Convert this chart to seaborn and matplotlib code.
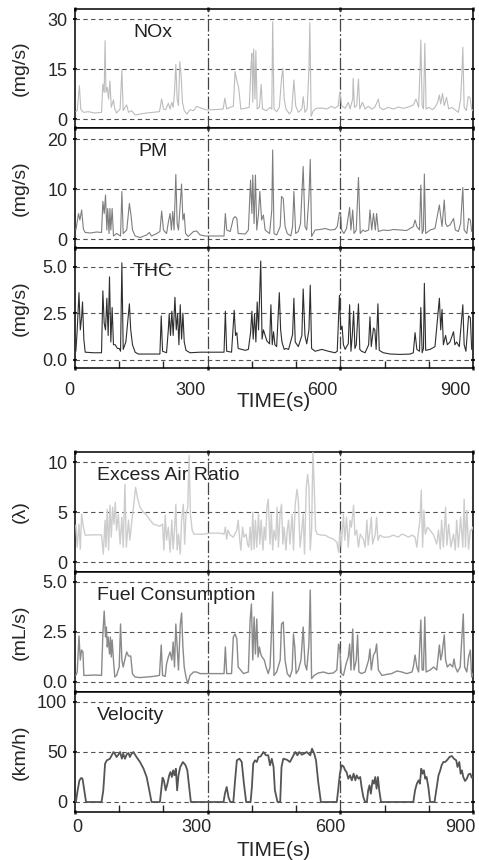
import matplotlib
matplotlib.use("Agg")
import pandas as pd
import matplotlib.pyplot as plt
import seaborn as sns
from matplotlib.ticker import FixedLocator
from matplotlib.transforms import ScaledTranslation

# time (s), value pairs
nox = [(2, 2.2), (5, 2.5), (10, 10), (13, 3), (19, 2), (30, 2.2), (45, 1.8), (60, 2), (63, 10.5), (66, 8),
       (68, 23.5), (70, 8), (73, 9.5), (76, 6), (79, 11.4), (82, 3.5), (87, 5.7), (90, 3), (94, 1.8), (102, 3),
       (106, 14.7), (109, 2.5), (113, 3.5), (117, 4.2), (121, 2), (128, 2.5), (136, 1.2), (147, 1.5), (162, 1.8),
       (177, 2), (191, 2.2), (196, 6), (200, 3), (205, 2.8), (211, 4.7), (215, 3), (219, 5), (222, 3.5), (225, 8),
       (228, 16.4), (231, 6), (234, 4), (237, 17.2), (240, 13), (243, 5), (247, 2.5), (253, 1.5), (260, 2.8),
       (268, 2.5), (275, 3.8), (286, 3.2), (298, 2.7), (313, 2.8), (328, 2.9), (335, 3), (339, 6.3), (343, 3),
       (351, 3.5), (358, 3.8), (362, 14.2), (366, 11.5), (370, 9.5), (375, 3), (384, 3.2), (394, 3.5), (398, 16),
       (400, 19.7), (402, 5), (404, 21), (407, 6), (409, 20.5), (412, 3), (417, 3.5), (421, 10.4), (424, 3),
       (433, 2.5), (441, 3.5), (445, 3), (447, 29.2), (450, 3), (456, 2.2), (462, 3.5), (467, 12), (470, 15.2),
       (473, 6), (477, 3), (485, 1.5), (490, 2.5), (495, 11.7), (499, 4), (505, 2), (513, 3), (516, 6.7), (520, 2),
       (525, 3), (529, 15), (531, 28.9), (534, 0.8), (539, 2.5), (546, 3.2), (558, 3.3), (569, 3), (580, 3.8),
       (588, 3.2), (595, 4), (599, 8.2), (603, 4), (611, 3.2), (618, 5), (622, 3), (628, 6), (629, 12.2),
       (632, 3.5), (637, 4), (641, 12), (644, 3), (650, 5), (656, 3), (663, 3.8), (671, 3), (678, 3.5), (686, 6),
       (689, 3.5), (697, 2.8), (708, 3.5), (720, 3), (731, 3.6), (743, 3.2), (754, 3.6), (765, 4.2), (771, 6),
       (777, 3.5), (780, 14), (782, 23.7), (785, 4), (788, 3), (791, 22.7), (794, 3), (800, 3.5), (808, 2.8),
       (814, 3.5), (820, 5), (824, 7.2), (827, 4.5), (831, 7.7), (835, 4), (840, 6.5), (845, 3), (852, 3.5),
       (859, 2.8), (867, 2), (872, 6), (875, 14), (877, 21.5), (880, 3.5), (885, 2.5), (889, 6.7), (893, 6.5),
       (897, 3), (899, 2.5)]

pm = [(2, 1.8), (8, 5.1), (11, 3.8), (15, 5.8), (19, 2), (23, 1.3), (34, 1.2), (49, 1.4), (60, 1.3), (63, 7.5),
      (66, 5.1), (69, 8.8), (72, 1.8), (74, 6.1), (77, 1.1), (79, 6.1), (81, 1.8), (84, 6.1), (87, 0.6), (94, 1.1),
      (103, 0.6), (106, 9.5), (109, 1.1), (117, 1.8), (123, 7.1), (127, 4.5), (130, 1.8), (136, 0.6), (147, 0.3),
      (162, 0.8), (168, 1.3), (173, 0.6), (185, 1.1), (192, 1.5), (196, 5.6), (200, 1.8), (207, 1.1), (211, 3.3),
      (215, 5.1), (218, 1.8), (221, 5.5), (224, 1.8), (228, 12.9), (231, 3.1), (234, 1.8), (241, 11), (244, 3.8),
      (247, 5.1), (250, 1.1), (256, 0.5), (268, 1.5), (275, 1.6), (283, 0.8), (294, 0.6), (313, 0.6), (328, 0.6),
      (337, 0.6), (340, 5.1), (343, 1.8), (351, 1.5), (358, 4.1), (362, 4.5), (366, 4.1), (369, 1.1), (385, 1),
      (392, 1.8), (397, 11.8), (400, 5.1), (402, 12.8), (405, 3.1), (408, 12.8), (411, 1.8), (415, 5.1),
      (418, 9.5), (422, 3.8), (426, 4.8), (430, 1.8), (434, 1.5), (440, 1.1), (445, 5.8), (447, 17.8), (450, 1.1),
      (456, 0.8), (464, 2.5), (467, 8.5), (471, 8.1), (475, 2.5), (480, 1.1), (488, 0.6), (492, 2.5), (495, 9.5),
      (499, 1.1), (505, 1.5), (510, 3.1), (516, 14.5), (520, 2.5), (524, 1.8), (529, 8.5), (532, 15.9),
      (535, 0.5), (543, 1.8), (554, 1.9), (566, 2.1), (577, 1.8), (588, 1.9), (593, 2.5), (598, 5.3), (601, 4.8),
      (603, 1.8), (608, 1.1), (614, 2.1), (621, 6.3), (624, 1.8), (628, 5.8), (631, 1.1), (636, 1.8), (641, 12.3),
      (645, 1.1), (651, 1.8), (656, 1.5), (664, 1.8), (667, 5.8), (671, 1.8), (675, 5.1), (679, 1.8), (682, 5.1),
      (686, 1.5), (697, 1.8), (709, 1.7), (720, 1.9), (735, 1.8), (750, 1.7), (765, 2.5), (769, 3.8), (773, 2.5),
      (779, 1.8), (782, 10.8), (785, 1.1), (788, 1.8), (790, 13), (793, 1.1), (803, 1.8), (814, 2.1), (824, 6.8),
      (827, 4.5), (830, 2.5), (835, 7.8), (838, 3.1), (842, 2.5), (848, 2.8), (856, 4.1), (860, 1.8), (867, 1.5),
      (872, 3.1), (877, 10.3), (880, 1.8), (886, 1.1), (890, 4.1), (894, 3.8), (897, 1.5)]

thc = [(2, 0.45), (5, 1.6), (9, 3.6), (12, 1.6), (15, 2.3), (17, 3.1), (20, 1.1), (23, 0.4), (41, 0.37),
       (60, 0.37), (63, 3.7), (66, 1.95), (69, 1.6), (72, 3.3), (75, 1.3), (78, 4.45), (81, 0.95), (84, 2.8),
       (87, 0.8), (91, 0.8), (96, 0.6), (100, 0.6), (103, 0.45), (106, 5.2), (109, 0.55), (115, 0.95), (119, 2.0),
       (123, 3.0), (126, 1.6), (130, 0.8), (136, 0.4), (143, 0.3), (170, 0.3), (192, 0.3), (195, 2.35), (198, 0.45),
       (207, 0.37), (211, 1.6), (213, 2.45), (216, 1.3), (219, 2.6), (222, 1.3), (226, 3.35), (229, 1.6),
       (232, 2.45), (235, 0.8), (238, 2.95), (241, 1.1), (244, 2.5), (247, 0.95), (251, 0.5), (260, 0.37),
       (283, 0.4), (320, 0.4), (337, 0.4), (340, 2.6), (343, 0.45), (354, 0.4), (360, 2.65), (363, 1.3),
       (366, 1.45), (369, 0.6), (385, 0.5), (392, 0.55), (397, 1.45), (400, 2.6), (403, 1.1), (406, 2.45),
       (409, 0.95), (412, 3.1), (415, 1.6), (420, 5.3), (423, 1.1), (426, 1.6), (430, 1.3), (434, 1.0),
       (440, 0.85), (443, 2.95), (446, 0.8), (449, 1.5), (452, 0.8), (456, 0.7), (462, 3.6), (465, 1.6),
       (468, 0.95), (473, 0.55), (477, 0.6), (483, 0.55), (492, 1.35), (495, 3.3), (498, 0.95), (505, 0.7),
       (513, 1.3), (516, 3.8), (520, 1.3), (524, 0.85), (529, 1.6), (532, 4.0), (535, 0.6), (543, 0.45),
       (558, 0.55), (573, 0.45), (588, 0.37), (593, 0.45), (598, 3.45), (601, 1.6), (604, 1.8), (607, 0.8),
       (611, 0.55), (614, 0.7), (618, 0.85), (621, 2.95), (624, 0.45), (627, 1.3), (630, 2.6), (633, 0.6),
       (636, 0.8), (641, 3.0), (644, 0.55), (648, 0.45), (656, 0.37), (664, 0.8), (667, 2.3), (670, 0.7),
       (675, 1.7), (678, 1.6), (681, 0.55), (685, 3.0), (688, 0.5), (697, 0.37), (713, 0.3), (735, 0.28),
       (758, 0.3), (765, 0.37), (769, 1.45), (773, 0.55), (779, 0.45), (782, 2.8), (785, 0.37), (788, 0.6),
       (790, 4.1), (793, 0.5), (803, 0.55), (814, 0.7), (824, 3.3), (827, 1.6), (830, 2.7), (833, 0.8),
       (838, 1.3), (842, 0.8), (848, 0.95), (856, 1.5), (859, 0.8), (863, 0.95), (869, 0.7), (877, 2.95),
       (880, 0.8), (884, 0.45), (890, 2.35), (894, 2.25), (897, 0.55)]

lam = [(2, 3.7), (5, 1.5), (9, 3.8), (12, 1.3), (15, 4.8), (19, 3.5), (23, 2.7), (41, 2.73), (60, 2.73), (64, 0.8),
       (68, 4.2), (70, 1.5), (73, 5.3), (76, 1.2), (79, 5.7), (82, 2.5), (85, 5.5), (88, 3.8), (91, 6.0), (94, 3.2),
       (98, 4.8), (102, 1.8), (106, 4.5), (109, 1.5), (113, 7.8), (116, 1.5), (121, 4.2), (124, 2.2), (130, 4.7),
       (133, 5.8), (137, 7.5), (141, 6.5), (147, 5.5), (155, 5.0), (162, 4.7), (170, 4.2), (177, 3.8), (185, 3.7),
       (192, 3.6), (198, 3.8), (201, 1.2), (204, 4.7), (207, 2.2), (211, 3.5), (215, 1.0), (219, 4.2), (222, 1.3),
       (225, 3.2), (228, 5.8), (231, 1.2), (234, 2.8), (238, 0.8), (241, 4.2), (245, 5.8), (248, 1.8), (251, 4.8),
       (255, 5.5), (258, 10.7), (261, 4.8), (265, 3.2), (269, 2.8), (279, 2.8), (290, 2.8), (305, 2.9), (328, 2.9),
       (337, 2.8), (340, 3.5), (343, 2.3), (346, 3.2), (351, 2.7), (358, 2.5), (366, 3.2), (369, 4.2), (372, 2.5),
       (375, 1.2), (379, 3.5), (382, 2.5), (387, 2.8), (390, 1.8), (393, 1.5), (396, 3.5), (399, 1.2), (402, 5.0),
       (405, 1.3), (408, 4.2), (411, 1.5), (415, 4.8), (418, 1.8), (421, 4.2), (425, 1.2), (428, 3.5), (431, 2.2),
       (434, 5.5), (437, 6.3), (441, 1.8), (444, 4.8), (447, 1.2), (450, 3.2), (454, 2.2), (457, 5.5), (460, 1.5),
       (464, 5.0), (467, 5.8), (470, 1.8), (473, 3.5), (477, 1.2), (480, 3.2), (483, 4.2), (486, 1.8), (491, 4.8),
       (494, 1.2), (498, 5.8), (502, 7.3), (505, 6.2), (509, 1.5), (512, 2.8), (516, 4.8), (519, 0.8), (523, 7.5),
       (526, 8.8), (529, 7.5), (532, 1.2), (535, 3.2), (538, 11.0), (541, 7.5), (544, 3.2), (548, 2.8), (558, 2.7),
       (566, 2.7), (573, 2.5), (584, 2.3), (592, 2.0), (596, 1.0), (599, 3.2), (602, 1.5), (607, 4.8), (610, 2.2),
       (614, 4.5), (618, 1.5), (622, 4.2), (625, 3.5), (630, 5.7), (633, 2.7), (637, 3.2), (641, 1.5), (645, 2.8),
       (652, 2.3), (656, 1.5), (660, 4.2), (663, 1.7), (667, 3.2), (670, 4.5), (673, 1.8), (679, 2.8), (682, 4.5),
       (685, 2.2), (690, 2.7), (697, 2.5), (709, 2.5), (720, 2.7), (731, 2.5), (739, 2.8), (746, 2.7), (754, 2.5),
       (762, 2.7), (769, 2.5), (773, 1.5), (777, 3.2), (780, 4.2), (783, 7.2), (786, 1.5), (789, 5.2), (792, 2.8),
       (797, 3.5), (803, 3.2), (811, 2.7), (818, 1.8), (822, 3.2), (826, 1.3), (829, 4.2), (833, 1.5), (838, 5.5),
       (841, 1.7), (845, 3.8), (850, 1.5), (856, 2.8), (860, 1.2), (863, 4.2), (867, 1.5), (872, 4.5), (877, 1.5),
       (880, 6.3), (883, 1.5), (886, 5.2), (890, 1.3), (894, 3.2), (897, 3.2), (899, 3.5)]

fuel = [(2, 0.33), (5, 0.5), (9, 2.3), (12, 1.1), (15, 1.6), (18, 1.5), (20, 0.33), (26, 0.33), (45, 0.35),
        (60, 0.33), (63, 2.4), (66, 3.55), (69, 2.25), (71, 2.75), (73, 1.75), (75, 2.25), (78, 1.4), (80, 2.25),
        (82, 1.25), (84, 2.1), (87, 1.1), (90, 0.25), (94, 0.33), (100, 0.75), (103, 2.9), (106, 1.1), (109, 0.75),
        (114, 1.25), (117, 1.5), (121, 1.3), (126, 1.3), (130, 0.4), (136, 0.25), (147, 0.22), (162, 0.25),
        (177, 0.28), (191, 0.33), (195, 1.85), (198, 0.33), (204, 0.28), (207, 0.9), (211, 1.25), (215, 1.5),
        (219, 1.1), (222, 2.0), (225, 0.75), (228, 2.9), (231, 1.75), (234, 0.6), (238, 2.85), (241, 3.45),
        (244, 1.75), (247, 0.75), (251, 0.25), (255, -0.08), (260, 0.33), (268, 0.5), (275, 0.5), (283, 0.42),
        (298, 0.42), (320, 0.42), (337, 0.42), (340, 1.75), (343, 0.42), (354, 0.42), (358, 2.25), (362, 2.4),
        (366, 2.15), (369, 0.75), (381, 0.42), (392, 0.5), (396, 3.1), (399, 3.9), (402, 1.1), (405, 3.25),
        (408, 1.4), (411, 3.15), (414, 1.25), (417, 1.75), (420, 1.4), (423, 1.25), (428, 1.1), (432, 0.75),
        (437, 0.42), (441, 0.75), (444, 2.3), (447, 4.5), (450, 0.33), (456, 0.5), (464, 1.1), (467, 2.9),
        (471, 3.0), (475, 1.1), (480, 0.42), (486, 0.25), (491, 0.6), (494, 2.4), (497, 1.75), (500, 0.42),
        (505, 0.6), (511, 1.1), (516, 2.75), (520, 0.9), (524, 0.6), (529, 1.9), (532, 4.6), (535, 0.17),
        (541, 0.33), (550, 0.45), (562, 0.5), (573, 0.42), (584, 0.45), (592, 0.6), (596, 1.9), (599, 1.6),
        (602, 0.42), (607, 0.33), (613, 0.9), (618, 1.25), (621, 1.9), (624, 0.6), (628, 2.65), (631, 0.6),
        (636, 1.1), (639, 2.35), (642, 0.5), (648, 0.42), (656, 0.5), (664, 1.1), (667, 1.65), (670, 0.6),
        (675, 1.35), (679, 1.5), (682, 1.9), (686, 0.6), (694, 0.33), (705, 0.38), (716, 0.42), (728, 0.55),
        (739, 0.5), (750, 0.42), (762, 0.5), (765, 0.75), (769, 1.35), (773, 0.75), (777, 0.5), (782, 3.1),
        (785, 0.6), (788, 0.6), (791, 3.25), (794, 0.5), (803, 0.6), (811, 0.75), (818, 0.6), (824, 1.85),
        (827, 1.1), (830, 1.4), (835, 2.35), (838, 1.1), (842, 0.75), (848, 0.9), (854, 0.75), (857, 1.15),
        (860, 0.75), (865, 0.5), (871, 0.75), (875, 2.25), (878, 3.4), (881, 0.75), (886, 0.5), (890, 1.25),
        (894, 1.6), (897, 0.25), (899, 0.42)]

vel = [(2, 0), (6, 11.7), (10, 21.7), (14, 24), (17, 23.3), (21, 11.7), (25, 0), (60, 0), (64, 11.7), (68, 38.3),
       (72, 41.7), (75, 42.3), (79, 43.3), (83, 46.7), (87, 50), (90, 48.3), (94, 45), (98, 47.3), (102, 50),
       (106, 43.3), (109, 48.3), (113, 43.3), (117, 47.7), (121, 49), (124, 45), (128, 48.3), (132, 50), (139, 45),
       (147, 40), (155, 33.3), (162, 25), (168, 11.7), (173, 0), (192, 0), (195, 11.7), (198, 24.3), (201, 21.7),
       (205, 11.7), (209, 18.3), (213, 26.7), (216, 30), (219, 25), (222, 31.7), (225, 26.7), (228, 33.3),
       (231, 11.7), (234, 26.7), (238, 35), (244, 40), (250, 36.7), (254, 31.7), (259, 11.7), (262, 0), (336, 0),
       (339, 8.3), (343, 15), (347, 5), (351, 0), (358, 0), (362, 21.7), (366, 41.7), (372, 43.3), (377, 40),
       (382, 18.3), (387, 0), (397, 0), (400, 15), (403, 38.3), (407, 41.7), (411, 40), (415, 45), (420, 45.7),
       (426, 50), (432, 46.7), (437, 46.7), (441, 36.7), (445, 43.3), (449, 35), (452, 11.7), (458, 0), (464, 0),
       (467, 35), (471, 43.3), (479, 42.3), (486, 40), (492, 45), (498, 50), (503, 46.7), (507, 50), (513, 47.3),
       (518, 48.3), (524, 50), (532, 46.7), (536, 53.3), (541, 48.3), (545, 41.7), (550, 20), (556, 0), (592, 0),
       (595, 11.7), (599, 28.3), (603, 36.7), (607, 35.7), (611, 31.7), (614, 30), (618, 23.3), (622, 26.7),
       (626, 21.7), (630, 28.3), (634, 21.7), (637, 26.7), (641, 23.3), (645, 25), (648, 15), (652, 5), (656, 0),
       (660, 0), (663, 11.7), (666, 16.7), (669, 8.3), (673, 21.7), (676, 18.3), (679, 25), (682, 13.3), (685, 25),
       (688, 11.7), (692, 0), (765, 0), (769, 11.7), (773, 18.3), (777, 21.7), (780, 18.3), (783, 33.3),
       (786, 28.3), (789, 31.7), (792, 23.3), (795, 25), (799, 15), (803, 0), (813, 0), (817, 11.7), (822, 26.7),
       (826, 31.7), (829, 36.7), (833, 40), (837, 40), (841, 41.7), (847, 45), (852, 46), (857, 43.3), (862, 41.7),
       (865, 35), (869, 40), (872, 28.3), (875, 31.7), (878, 25), (882, 21), (886, 23.3), (890, 27.7), (894, 28.3),
       (897, 24.3), (899, 25)]

x_ticks = [0, 300, 600, 900]
x_minor = [100, 200, 400, 500, 700, 800]

sns.set_style("white")
plt.rcParams['font.family'] = ['Liberation Sans', 'DejaVu Sans']

fig = plt.figure(figsize=(4.79, 8.60), dpi=100)

W, H = 479.0, 860.0
left, width = 75 / W, 398 / W

# (data, name, colour, lw, ylim, yticks, ytick labels, ylabel, top px, bottom px, text x, text ha, last?, group)
panels = [
    (nox, "NOx", "#bcbcbc", 0.8, (-2.7, 33), [0, 15, 30], ["0", "15", "30"], "(mg/s)", 9, 128, 0.196, "center", False, 0),
    (pm, "PM", "#7e7e7e", 0.8, (-1.8, 22.2), [0, 10, 20], ["0", "10", "20"], "(mg/s)", 128, 248, 0.196, "center", False, 0),
    (thc, "THC", "#2e2e2e", 0.8, (-0.45, 6.0), [0, 2.5, 5], ["0.0", "2.5", "5.0"], "(mg/s)", 248, 368, 0.196, "center", True, 0),
    (lam, "Excess Air Ratio", "#cdcdcd", 1.0, (-1.0, 11.05), [0, 5, 10], ["0", "5", "10"], "(λ)", 452, 572, 0.055, "left", False, 1),
    (fuel, "Fuel Consumption", "#8a8a8a", 1.0, (-0.5, 5.5), [0, 2.5, 5], ["0.0", "2.5", "5.0"], "(mL/s)", 572, 692, 0.055, "left", False, 1),
    (vel, "Velocity", "#555555", 1.3, (-10, 110), [0, 50, 100], ["0", "50", "100"], "(km/h)", 692, 812, 0.055, "left", True, 1),
]

label_shift = [[-6, -17, -18, -18], [2, -11, -10, -13]]
tick_pad = [8.5, 3.5]
xlabel_y = [-0.2, -0.24]

for pts, name, color, lw, ylim, yt, ytl, ylab, top, bot, tx, tha, last, grp in panels:
    ax = fig.add_axes([left, 1 - bot / H, width, (bot - top) / H])
    df = pd.DataFrame(pts, columns=["t", "v"])
    sns.lineplot(data=df, x="t", y="v", ax=ax, color=color, lw=lw, estimator=None, sort=False, zorder=3)

    ax.set_xlim(0, 900)
    ax.set_ylim(*ylim)
    for y in yt:
        ax.axhline(y, color="#555555", lw=0.8, ls=(0, (4, 3)), zorder=1)
    for x in (300, 600):
        ax.axvline(x, color="#444444", lw=0.9, ls=(0, (10, 2, 1.5, 2)), zorder=2)

    for s in ax.spines.values():
        s.set_color("black")
        s.set_linewidth(1.1)

    ax.set_yticks(yt)
    ax.set_yticklabels(ytl)
    ax.set_xticks(x_ticks)
    ax.xaxis.set_minor_locator(FixedLocator(x_minor))
    ax.tick_params(axis="y", which="major", direction="inout", length=3, width=1.5,
                   left=True, right=True, labelsize=13, pad=4)
    ax.tick_params(axis="x", which="major", direction="inout", length=3, width=1.8,
                   top=True, bottom=True, labelsize=13, labelbottom=last, pad=tick_pad[grp])
    ax.tick_params(axis="x", which="minor", direction="in", length=5 if last else 0,
                   width=1, bottom=True, top=False)

    ax.set_ylabel(ylab, fontsize=14)
    ax.yaxis.set_label_coords(-0.115, 0.5)

    if last:
        ax.set_xlabel("TIME(s)", fontsize=15)
        ax.xaxis.set_label_coords(0.5, xlabel_y[grp])
        for lbl, dx in zip(ax.get_xticklabels(), label_shift[grp]):
            lbl.set_transform(lbl.get_transform() + ScaledTranslation(dx / 100, 0, fig.dpi_scale_trans))
    else:
        ax.set_xlabel("")

    ax.text(tx, 0.8, name, transform=ax.transAxes, fontsize=14, ha=tha, va="center", color="#222222", zorder=4)

fig.savefig("out.png", dpi=100, facecolor="white")
